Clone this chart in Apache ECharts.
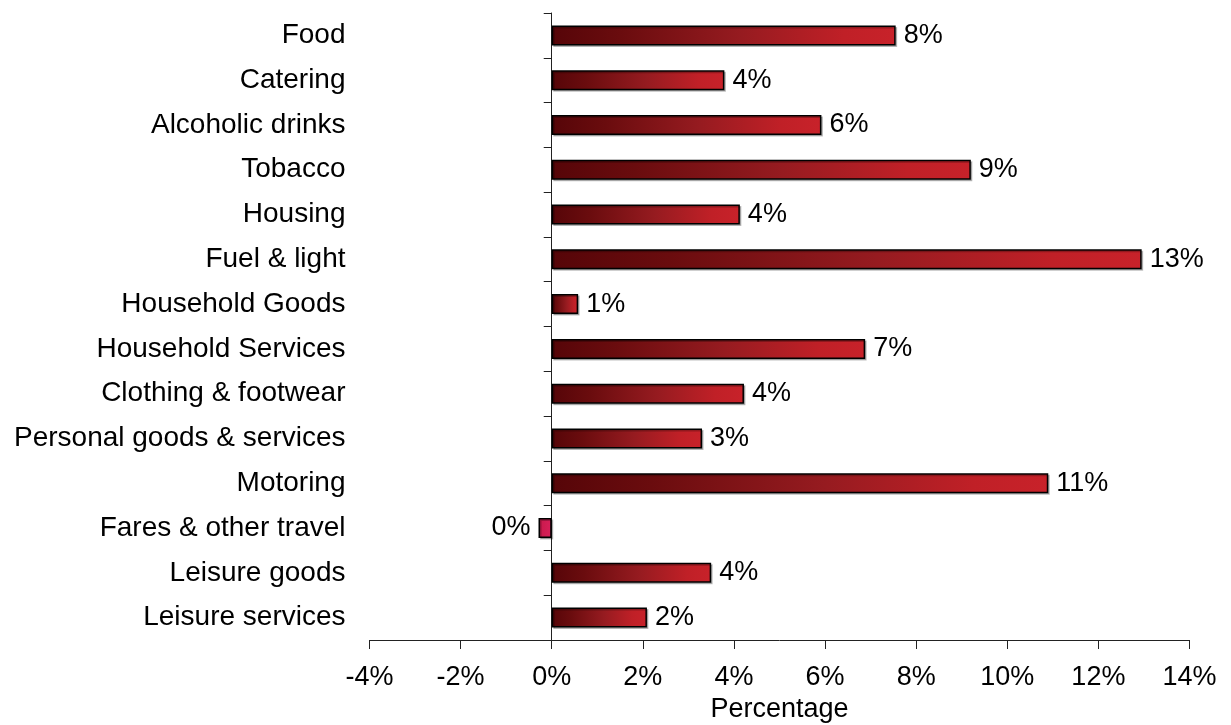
<!DOCTYPE html>
<html>
<head>
<meta charset="utf-8">
<script src="https://cdn.jsdelivr.net/npm/echarts@6/dist/echarts.min.js"></script>
<style>
html,body{margin:0;padding:0;background:#fff;}
#chart{width:1231px;height:725px;}
</style>
</head>
<body>
<div id="chart"></div>
<script>
var categories = ["Food","Catering","Alcoholic drinks","Tobacco","Housing","Fuel & light","Household Goods","Household Services","Clothing & footwear","Personal goods & services","Motoring","Fares & other travel","Leisure goods","Leisure services"];
var values = [7.55, 3.79, 5.92, 9.2, 4.13, 12.95, 0.58, 6.88, 4.22, 3.3, 10.9, -0.29, 3.5, 2.09];
var xMin = -4, xMax = 14, xStep = 2;
var axisName = "Percentage";

var FONT = "'Liberation Sans', Arial, sans-serif";
var posGrad = new echarts.graphic.LinearGradient(0,0,1,0,[
  {offset:0,color:'#560508'},
  {offset:0.2,color:'#6a0c0e'},
  {offset:0.55,color:'#961b20'},
  {offset:0.85,color:'#c02027'},
  {offset:1,color:'#c8222a'}
]);
var negGrad = new echarts.graphic.LinearGradient(0,0,1,0,[
  {offset:0,color:'#c8184a'},
  {offset:1,color:'#d8205a'}
]);

var data = values.map(function(v){
  var item = {value:v};
  if (v < 0) {
    item.itemStyle = {color: negGrad};
    item.label = {position:'left'};
  }
  return item;
});

var chart = echarts.init(document.getElementById('chart'), null, {renderer:'canvas'});
chart.setOption({
  animation:false,
  backgroundColor:'#ffffff',
  textStyle:{fontFamily:FONT},
  grid:{left:369.5, right:41.5, top:13, bottom:85, outerBoundsMode:'none', containLabel:false},
  xAxis:{
    type:'value', min:xMin, max:xMax, interval:xStep,
    position:'bottom',
    axisLine:{show:true, onZero:false, lineStyle:{color:'#222', width:1}},
    axisTick:{show:true, inside:false, length:9, lineStyle:{color:'#222'}},
    splitLine:{show:false},
    axisLabel:{formatter:'{value}%', fontSize:27, color:'#000', margin:24, fontFamily:FONT},
    name:axisName, nameLocation:'middle', nameGap:56,
    nameTextStyle:{fontSize:27, color:'#000', fontFamily:FONT}
  },
  yAxis:[{
    type:'category', data:categories, inverse:true, position:'left',
    axisLine:{show:false, onZero:false},
    axisTick:{show:false},
    axisLabel:{fontSize:28, color:'#000', margin:24, fontFamily:FONT}
  },{
    type:'category', data:categories, inverse:true, position:'left',
    axisLine:{show:true, onZero:true, onZeroAxisIndex:0, lineStyle:{color:'#222', width:1}},
    axisTick:{show:true, inside:false, length:8, lineStyle:{color:'#222'}},
    axisLabel:{show:false}
  }],
  series:[{
    type:'bar', yAxisIndex:0, data:data, barWidth:20,
    itemStyle:{color:posGrad, borderColor:'#000', borderWidth:1.5,
      shadowColor:'rgba(0,0,0,0.25)', shadowOffsetX:1.5, shadowOffsetY:1.5, shadowBlur:0},
    label:{show:true, position:'right', distance:8, fontSize:27, color:'#000', fontFamily:FONT,
      formatter:function(p){ return Math.round(p.value) + '%'; }}
  }]
});
</script>
</body>
</html>
